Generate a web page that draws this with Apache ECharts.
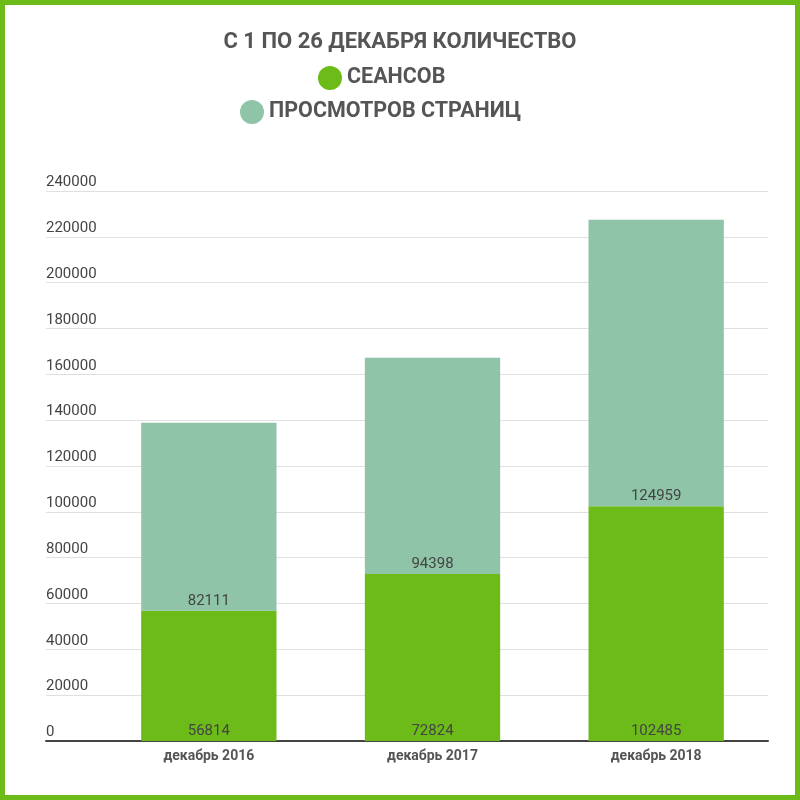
<!DOCTYPE html>
<html lang="ru">
<head>
    <meta charset="UTF-8">
    <script src="https://cdn.jsdelivr.net/npm/echarts@6/dist/echarts.min.js"></script>
    <style>
        html, body { margin: 0; padding: 0; background: #fff; }
        #main { width: 800px; height: 800px; box-sizing: border-box; border: 5px solid #6cbb18; }
    </style>
</head>
<body>
<div id="main"></div>
<script type="text/javascript">
    // данные
    var categories = ['декабрь 2016', 'декабрь 2017', 'декабрь 2018'];
    var sessions = [56814, 72824, 102485];
    var pageViews = [82111, 94398, 124959];
    var seriesNames = ['СЕАНСОВ', 'ПРОСМОТРОВ СТРАНИЦ'];
    var yTicks = { min: 0, max: 240000, interval: 20000 };

    var myChart = echarts.init(document.getElementById('main'));
    var textFont = 'Roboto';
    var gridTop = 186, gridBottom = 54;
    var legendText = { fontSize: 21.5, fontWeight: 'bold', color: '#555', fontFamily: textFont };

    var option = {
        textStyle: { fontFamily: textFont },
        title: {
            text: 'С 1 ПО 26 ДЕКАБРЯ КОЛИЧЕСТВО',
            left: 'center',
            top: 21,
            textStyle: { fontSize: 22, fontWeight: 'bold', color: '#555', fontFamily: textFont }
        },
        legend: [{
            data: [seriesNames[0]],
            left: 308,
            top: 56,
            icon: 'circle',
            itemWidth: 24,
            itemHeight: 24,
            textStyle: legendText
        }, {
            data: [seriesNames[1]],
            left: 230,
            top: 90,
            icon: 'circle',
            itemWidth: 24,
            itemHeight: 24,
            textStyle: legendText
        }],
        grid: [
            // сетка с подписями оси
            { left: 41, right: 27, top: gridTop, bottom: gridBottom },
            // сетка со столбцами
            { left: 92, right: 27, top: gridTop, bottom: gridBottom }
        ],
        xAxis: [{
            type: 'value',
            gridIndex: 0,
            min: 0, max: 1,
            axisLine: { show: true, onZero: false, lineStyle: { color: '#444', width: 2 } },
            axisTick: { show: false },
            axisLabel: { show: false },
            splitLine: { show: false }
        }, {
            type: 'category',
            gridIndex: 1,
            data: categories,
            axisLine: { show: false },
            axisTick: { show: false },
            axisLabel: { fontSize: 14, fontWeight: 'bold', color: '#555', margin: 8 }
        }],
        yAxis: [{
            type: 'value',
            gridIndex: 0,
            min: yTicks.min, max: yTicks.max, interval: yTicks.interval,
            axisLine: { show: false },
            axisTick: { show: false },
            axisLabel: {
                inside: true, margin: 0, align: 'left', verticalAlign: 'bottom',
                padding: [0, 0, 1, 0],
                fontSize: 15, color: '#444',
                formatter: function (v) { return String(v); }
            },
            splitLine: { lineStyle: { color: '#e0e0e0', width: 1 } }
        }, {
            type: 'value',
            gridIndex: 1,
            min: yTicks.min, max: yTicks.max, interval: yTicks.interval,
            axisLine: { show: false },
            axisTick: { show: false },
            axisLabel: { show: false },
            splitLine: { show: false }
        }],
        series: [{
            name: seriesNames[0],
            type: 'bar',
            stack: 'total',
            xAxisIndex: 1,
            yAxisIndex: 1,
            barWidth: '60.5%',
            data: sessions,
            itemStyle: { color: '#6cbb18' },
            label: { show: true, position: 'insideBottom', distance: 2, fontSize: 15, color: '#444' }
        }, {
            name: seriesNames[1],
            type: 'bar',
            stack: 'total',
            xAxisIndex: 1,
            yAxisIndex: 1,
            data: pageViews,
            itemStyle: { color: '#8fc4a9' },
            label: { show: true, position: 'insideBottom', distance: 2, fontSize: 15, color: '#444' }
        }]
    };

    myChart.setOption(option);
</script>
</body>
</html>
